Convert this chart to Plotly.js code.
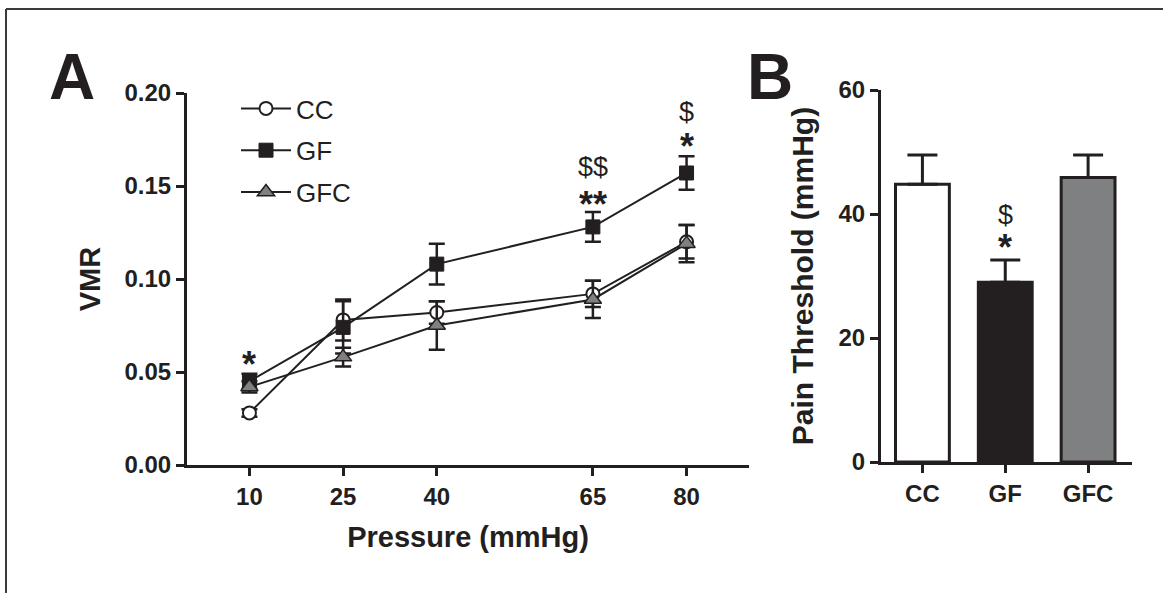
<!DOCTYPE html>
<html>
<head>
<meta charset="utf-8">
<script src="https://cdn.plot.ly/plotly-3.0.1.min.js"></script>
<style>html,body{margin:0;padding:0;background:#fff}#chart{width:1163px;height:593px}</style>
</head>
<body>
<div id="chart"></div>
<script>
// ---- Data ----
const pressure = [10, 25, 40, 65, 80];
const ccVMR   = [0.028, 0.078, 0.082, 0.092, 0.120];
const ccErr   = [0.002, 0.011, 0.006, 0.007, 0.009];
const gfVMR   = [0.045, 0.074, 0.108, 0.128, 0.157];
const gfErr   = [0.004, 0.014, 0.011, 0.008, 0.009];
const gfcVMR  = [0.042, 0.058, 0.075, 0.089, 0.119];
const gfcErr  = [0.003, 0.005, 0.013, 0.010, 0.010];
const vmrTicks = [0, 0.05, 0.10, 0.15, 0.20];

const groups = ['CC', 'GF', 'GFC'];
const painThreshold = [44.8, 29.0, 45.9];
const painErr = [4.7, 3.6, 3.6];
const painTicks = [0, 20, 40, 60];

// significance marks: [x, y, text]
const sigA = [[10, 0.054, '*'], [65, 0.160, '$$'], [65, 0.140, '**'], [80, 0.190, '$'], [80, 0.171, '*']];
const sigB = [['GF', 39.8, '$'], ['GF', 34.6, '*']];

// ---- Styles ----
const ink = '#231f20';
const FONT = 'Liberation Sans, Arial, Helvetica, sans-serif';
const W = 1163, H = 593;

function errY(arr, w) {
  return {type: 'data', array: arr, visible: true, color: ink, thickness: 2.5, width: w};
}

const traces = [
  {x: pressure, y: ccVMR, name: 'CC', legendgroup: 'a', type: 'scatter', mode: 'lines+markers',
   line: {color: ink, width: 2},
   marker: {symbol: 'circle', size: 13, color: '#ffffff', line: {color: ink, width: 2}},
   error_y: errY(ccErr, 8), xaxis: 'x', yaxis: 'y'},
  {x: pressure, y: gfVMR, name: 'GF', legendgroup: 'b', type: 'scatter', mode: 'lines+markers',
   line: {color: ink, width: 2},
   marker: {symbol: 'square', size: 14, color: ink, line: {color: ink, width: 1}},
   error_y: errY(gfErr, 8), xaxis: 'x', yaxis: 'y'},
  {x: pressure, y: gfcVMR, name: 'GFC', legendgroup: 'c', type: 'scatter', mode: 'lines+markers',
   line: {color: ink, width: 2},
   marker: {symbol: 'triangle-up', size: 15, color: '#7f8082', line: {color: ink, width: 1.5}},
   error_y: errY(gfcErr, 8), xaxis: 'x', yaxis: 'y'},
  {x: groups, y: painThreshold, type: 'bar', showlegend: false, width: 0.65,
   marker: {color: ['#ffffff', ink, '#7f8082'], line: {color: ink, width: 3}},
   error_y: {type: 'data', symmetric: false, array: painErr, arrayminus: [0, 0, 0],
             visible: true, color: ink, thickness: 3, width: 15},
   xaxis: 'x2', yaxis: 'y2'}
];

const tickFont = {family: FONT, size: 24, color: ink, weight: 'bold'};
const titleFont = {family: FONT, size: 29, color: ink, weight: 'bold'};
const axBase = {showline: true, linewidth: 3, linecolor: ink, ticks: 'outside', ticklen: 8,
  tickwidth: 3, tickcolor: ink, showgrid: false, zeroline: false, tickfont: tickFont,
  fixedrange: true};

function sigFont(t) {
  return t.indexOf('*') >= 0 ? {family: FONT, size: 36, color: ink, weight: 'bold'} : {family: FONT, size: 27, color: ink};
}
const annotations = [];
sigA.forEach(s => annotations.push({x: s[0], y: s[1], xref: 'x', yref: 'y', text: s[2],
  xanchor: 'center', yanchor: 'middle', showarrow: false, font: sigFont(s[2])}));
sigB.forEach(s => annotations.push({x: s[0], y: s[1], xref: 'x2', yref: 'y2', text: s[2],
  xanchor: 'center', yanchor: 'middle', showarrow: false, font: sigFont(s[2])}));
annotations.push({x: 72 / W, y: 1 - 77 / H, xref: 'paper', yref: 'paper', text: 'A',
  xanchor: 'center', yanchor: 'middle',
  showarrow: false, font: {family: FONT, size: 64, color: ink, weight: 'bold'}});
annotations.push({x: 770 / W, y: 1 - 77 / H, xref: 'paper', yref: 'paper', text: 'B',
  xanchor: 'center', yanchor: 'middle',
  showarrow: false, font: {family: FONT, size: 64, color: ink, weight: 'bold'}});

const layout = {
  width: W, height: H,
  margin: {l: 0, r: 0, t: 0, b: 0},
  paper_bgcolor: '#ffffff', plot_bgcolor: 'rgba(0,0,0,0)',
  font: {family: FONT, color: ink},
  showlegend: true,
  legend: {x: 236 / W, y: 1 - 85 / H, xanchor: 'left', yanchor: 'top',
    bgcolor: 'rgba(0,0,0,0)', borderwidth: 0, tracegroupgap: 5, itemwidth: 50,
    font: {family: FONT, size: 26, color: ink}},
  xaxis: Object.assign({}, axBase, {domain: [187 / W, 749 / W], range: [0, 90],
    tickvals: pressure, anchor: 'y',
    title: {text: 'Pressure (mmHg)', font: titleFont, standoff: 18}}),
  yaxis: Object.assign({}, axBase, {domain: [1 - 465 / H, 1 - 93 / H], range: [0, 0.2],
    tickvals: vmrTicks, tickformat: '.2f', anchor: 'x',
    title: {text: 'VMR', font: titleFont, standoff: 16}}),
  xaxis2: Object.assign({}, axBase, {domain: [881 / W, 1132 / W], range: [-0.5, 2.53],
    type: 'category', anchor: 'y2'}),
  yaxis2: Object.assign({}, axBase, {domain: [1 - 462 / H, 1 - 90 / H], range: [0, 60],
    tickvals: painTicks, anchor: 'x2',
    title: {text: 'Pain Threshold (mmHg)', font: Object.assign({}, titleFont, {size: 30}), standoff: 16}}),
  annotations: annotations,
  shapes: [
    {type: 'line', xref: 'paper', yref: 'paper', x0: 6 / W, x1: 1, y0: 1 - 9 / H, y1: 1 - 9 / H,
     line: {color: '#3a3a3a', width: 2}},
    {type: 'line', xref: 'paper', yref: 'paper', x0: 6 / W, x1: 6 / W, y0: 0, y1: 1 - 9 / H,
     line: {color: '#3a3a3a', width: 2}}
  ]
};

Plotly.newPlot('chart', traces, layout, {displayModeBar: false, staticPlot: true});
</script>
</body>
</html>
